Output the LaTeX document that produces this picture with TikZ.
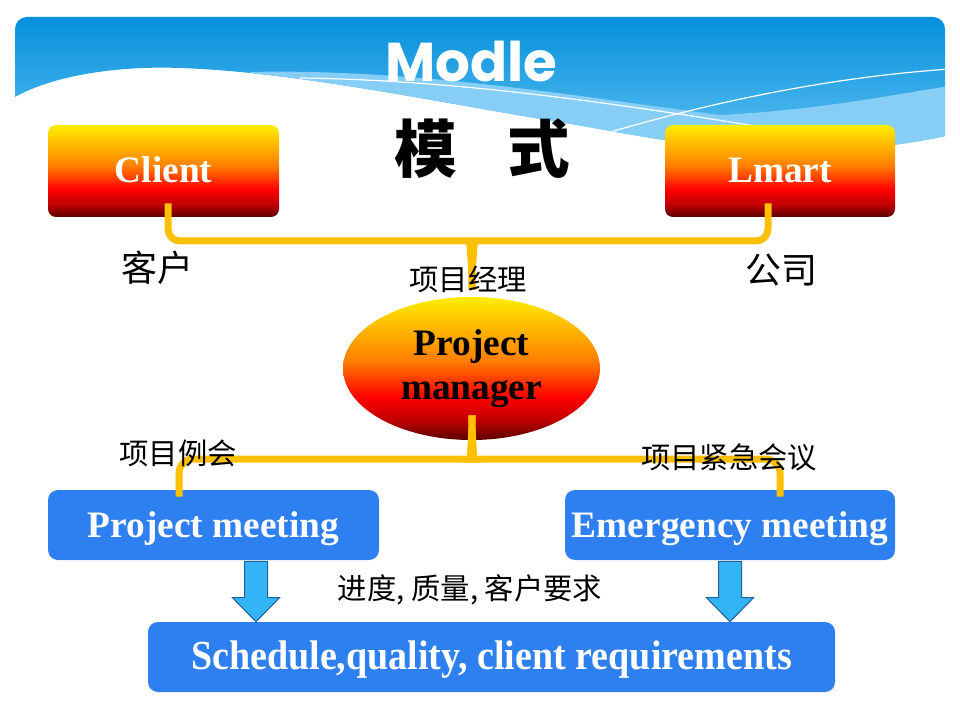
\documentclass[tikz,border=0pt]{standalone}
\usepackage{fontspec}
\setmainfont{Liberation Serif}
\newfontfamily\cjk{Noto Sans CJK SC}
\newfontfamily\modfont{Poppins}
\usetikzlibrary{calc,shapes.geometric}
\newdimen\pxu \pxu=0.75pt
\definecolor{wyellow}{RGB}{255,238,0}
\definecolor{worange}{RGB}{255,128,0}
\definecolor{wred}{RGB}{255,0,0}
\definecolor{wdred}{RGB}{192,0,0}
\definecolor{wdark}{RGB}{90,0,0}
\definecolor{boxBlue}{RGB}{46,127,239}
\definecolor{connY}{RGB}{255,192,0}
\definecolor{arrFill}{RGB}{51,181,245}
\definecolor{arrLine}{RGB}{31,95,160}
\definecolor{bTop}{RGB}{5,144,220}
\definecolor{bBot}{RGB}{100,195,242}
\definecolor{bBand}{RGB}{134,206,245}
\pgfdeclareverticalshading{warm}{100bp}{color(0bp)=(wdark); color(25bp)=(wdark); color(32bp)=(wdred); color(40bp)=(wred); color(53bp)=(worange); color(75bp)=(wyellow); color(100bp)=(wyellow)}
\begin{document}
\begin{tikzpicture}[x=0.75pt,y=-0.75pt,
  conn/.style={draw=connY, line width=7\pxu, line cap=butt},
  warmbox/.style={shading=warm, rounded corners=8\pxu, minimum width=#1, minimum height=92\pxu, inner sep=0pt, text=white, text height=18pt, text depth=0pt, font=\fontsize{28}{33}\selectfont\bfseries},
  bluebox/.style={fill=boxBlue, rounded corners=10\pxu, minimum width=#1, minimum height=70\pxu, inner sep=0pt, text=white, text height=18pt, text depth=0pt, font=\fontsize{28}{33}\selectfont\bfseries},
  cjklab/.style={font=\cjk\fontsize{22}{26}\selectfont, text=black, inner sep=0pt},
  cjkbig/.style={font=\cjk\fontsize{27}{30}\selectfont, text=black, inner sep=0pt},
  barrow/.style={fill=arrFill, draw=arrLine, line width=1\pxu, line join=miter}]
\useasboundingbox (0,0) rectangle (960,720);
% banner
\begin{scope}
\clip[rounded corners=12\pxu] (15,17) rectangle (945,200);
\clip (10,10) -- (10,100) -- (15,97) .. controls (60,72) and (130,66) .. (180,68) .. controls (300,72) and (450,105) .. (560,122) .. controls (650,138) and (720,152) .. (800,152) .. controls (870,150) and (920,142) .. (950,135) -- (950,10) -- cycle;
\shade[top color=bTop, bottom color=bBot] (15,17) rectangle (945,160);
\fill[bBand] (250,72) .. controls (420,68) and (600,100) .. (720,115) .. controls (820,110) and (890,95) .. (950,86) -- (950,200) -- (250,200) -- cycle;
\draw[white, line width=1.2\pxu] (300,78) .. controls (450,80) and (600,100) .. (810,135);
\draw[white, line width=1.2\pxu] (590,138) .. controls (700,105) and (820,78) .. (950,69);
\end{scope}
\node[text=white, font=\modfont\bfseries\fontsize{41}{44}\selectfont, inner sep=0pt, anchor=base] (title) at (471,82) {Modle};
\node[font=\cjk\bfseries\fontsize{47}{50}\selectfont, inner sep=0pt] (moshi) at (482,149) {模\hspace{38pt}式};
% boxes
\node[warmbox=231\pxu] (c) at (163.5,171) {Client};
\node[warmbox=230\pxu] (l) at (780,171) {Lmart};
\node[ellipse, shading=warm, minimum width=257\pxu, minimum height=143\pxu, inner sep=0pt, align=center, font=\fontsize{28}{33}\selectfont\bfseries] (pm) at (471.5,368.5) {Project\\manager};
\node[bluebox=331\pxu] (pmt) at (213.5,525) {Project meeting};
\node[bluebox=330\pxu] (em) at (730,525) {Emergency meeting};
\node[bluebox=687\pxu] (sq) at (491.5,657) {\scalebox{0.92}[1]{\fontsize{31}{36}\selectfont Schedule,quality, client requirements}};
% connectors
\coordinate (ca) at ($(c.south)+(4.5,-14)$);
\coordinate (la) at ($(l.south)+(-12,-14)$);
\coordinate (tip1) at ($(pm.north)+(0.5,-7)$);
\coordinate (tb) at (472,241);
\draw[conn] (ca) [rounded corners=12\pxu] |- ($(tb)+(-14,0)$) [sharp corners] .. controls ($(tb)+(-3,0)$) and ($(tip1)+(0,-30)$) .. (tip1);
\draw[conn] (la) [rounded corners=12\pxu] |- ($(tb)+(14,0)$) [sharp corners] .. controls ($(tb)+(3,0)$) and ($(tip1)+(0,-30)$) .. (tip1);
\coordinate (pa) at ($(pmt.north)+(-34.5,7)$);
\coordinate (ea) at ($(em.north)+(50,7)$);
\coordinate (tip2) at ($(pm.south)+(0.5,-25)$);
\coordinate (bb) at (472,459);
\draw[conn] (pa) [rounded corners=14\pxu] |- ($(bb)+(-14,0)$) [sharp corners] .. controls ($(bb)+(-3,0)$) and ($(tip2)+(0,30)$) .. (tip2);
\draw[conn] (ea) [rounded corners=14\pxu] |- ($(bb)+(14,0)$) [sharp corners] .. controls ($(bb)+(3,0)$) and ($(tip2)+(0,30)$) .. (tip2);
% blue arrows
\coordinate (a1t) at ($(pmt.south)+(42.5,1)$);
\coordinate (a1b) at (a1t |- sq.north);
\draw[barrow] ($(a1t)+(-11.5,0)$) -- ($(a1b)+(-11.5,-24)$) -- ($(a1b)+(-23.5,-24)$) -- (a1b) -- ($(a1b)+(23.5,-24)$) -- ($(a1b)+(11.5,-24)$) -- ($(a1t)+(11.5,0)$) -- cycle;
\coordinate (a2t) at ($(em.south)+(0,1)$);
\coordinate (a2b) at (a2t |- sq.north);
\draw[barrow] ($(a2t)+(-11.5,0)$) -- ($(a2b)+(-11.5,-24)$) -- ($(a2b)+(-23.5,-24)$) -- (a2b) -- ($(a2b)+(23.5,-24)$) -- ($(a2b)+(11.5,-24)$) -- ($(a2t)+(11.5,0)$) -- cycle;
% labels
\node[cjkbig] (kh) at (157,268) {客户};
\node[cjkbig] (gs) at (781,270) {公司};
\node[cjklab] (xmjl) at (468,279) {项目经理};
\node[cjklab] (xmlh) at (178,453) {项目例会};
\node[cjklab] (xmjj) at (729,457) {项目紧急会议};
\node[cjklab] (jd) at (470,590) {进度, 质量, 客户要求};
\end{tikzpicture}
\end{document}
